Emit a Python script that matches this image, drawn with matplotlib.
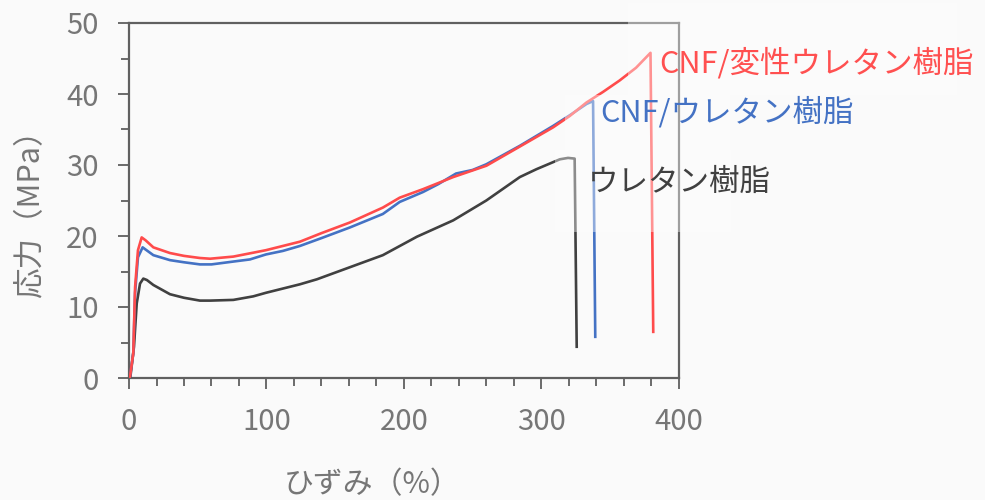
import matplotlib
matplotlib.use("Agg")
import matplotlib.pyplot as plt
from matplotlib.ticker import MultipleLocator
from matplotlib.patches import Rectangle

plt.rcParams['font.family'] = ['Noto Sans CJK JP', 'DejaVu Sans']

# Stress-strain curves (strain %, stress MPa)
mod_cnf_strain = [0, 0.7, 3.1, 4.4, 6.5, 9.2, 12, 17.7, 29.8, 40, 51.6, 59, 75.9, 90.4,
                  99.6, 112, 124.4, 140, 160.7, 184.7, 197, 214, 235.9, 260.1, 284.4,
                  308.6, 320.7, 332.9, 345, 357, 369, 379.5, 381.5]
mod_cnf_stress = [0, 0.2, 3.5, 12.8, 18, 19.8, 19.4, 18.4, 17.6, 17.2, 16.9, 16.8, 17.1, 17.65,
                  18.0, 18.6, 19.2, 20.4, 21.9, 24.0, 25.4, 26.6, 28.3, 29.9, 32.6,
                  35.3, 36.9, 38.8, 40.3, 41.9, 43.7, 45.8, 6.5]

cnf_strain = [0, 0.7, 3.1, 4.4, 6.5, 9.9, 12, 17.7, 29.8, 40, 51.6, 60, 75.9, 88, 99.6,
              112, 124.4, 140, 160.7, 184.7, 197, 214, 225, 238, 250, 260, 284.4, 308.6,
              320.7, 333, 337.7, 339.3]
cnf_stress = [0, 0.2, 3.5, 12, 17, 18.4, 18.1, 17.3, 16.6, 16.3, 16.0, 16.0, 16.4, 16.7, 17.4,
              17.9, 18.6, 19.7, 21.2, 23.1, 24.8, 26.2, 27.3, 28.8, 29.3, 30.1, 32.7, 35.5,
              37.0, 38.6, 39.0, 5.8]

pu_strain = [0, 1, 3.6, 5.6, 8, 10.4, 13, 17.7, 29.8, 40, 51.6, 59, 75.9, 90.4, 99.6, 112,
             124.4, 136.7, 160.7, 184.7, 209.5, 235.9, 260, 284.4, 296.4, 308.6, 313.5,
             319.5, 324.3, 325.8]
pu_stress = [0, 0.2, 4.4, 10.5, 13.3, 14.0, 13.8, 13.1, 11.8, 11.3, 10.9, 10.9, 11.0, 11.5,
             12.0, 12.6, 13.2, 13.9, 15.6, 17.3, 19.9, 22.2, 25.0, 28.3, 29.4, 30.4, 30.8,
             31.0, 30.9, 4.4]

labels = ["CNF/変性ウレタン樹脂", "CNF/ウレタン樹脂", "ウレタン樹脂"]
colors = ["#FF4B4B", "#4472C4", "#404040"]

bg = "#FAFAFA"
axis_col = "#606060"
text_col = "#767676"

fig = plt.figure(figsize=(9.85, 5.0), dpi=100, facecolor=bg)
ax = fig.add_axes([0.131, 0.244, 0.558, 0.710], facecolor=bg)

ax.plot(pu_strain, pu_stress, color=colors[2], lw=1.9, zorder=3)
ax.plot(cnf_strain, cnf_stress, color=colors[1], lw=1.9, zorder=3)
ax.plot(mod_cnf_strain, mod_cnf_stress, color=colors[0], lw=1.9, zorder=3)

ax.set_xlim(0, 400)
ax.set_ylim(0, 50)
ax.xaxis.set_major_locator(MultipleLocator(100))
ax.xaxis.set_minor_locator(MultipleLocator(20))
ax.yaxis.set_major_locator(MultipleLocator(10))
ax.yaxis.set_minor_locator(MultipleLocator(5))

for s in ax.spines.values():
    s.set_color(axis_col)
    s.set_linewidth(1.6)
ax.tick_params(which='major', direction='out', length=8, width=1.3, color=axis_col,
               labelsize=21, labelcolor=text_col)
ax.tick_params(which='minor', direction='out', length=5.5, width=1.3, color=axis_col)
ax.tick_params(axis='x', which='major', pad=13)
ax.tick_params(axis='y', which='major', pad=14)

fig.text(0.378, 0.03, "ひずみ（%）", fontsize=21.5, color=text_col, ha='center', va='center')
fig.text(0.031, 0.588, "応力（MPa）", fontsize=22, color=text_col, ha='center', va='center',
         rotation=90)

# translucent label panels
panels = [(0.907, 0.797, 0.60, 0.26), (0.793, 0.642, 0.30, 0.155),
          (0.775, 0.411, 0.32, 0.231)]
for (x0, y0, w, h) in panels:
    ax.add_patch(Rectangle((x0, y0), w, h, transform=ax.transAxes, facecolor="white",
                           edgecolor="none", alpha=0.4, clip_on=False, zorder=4))

ax.text(386, 44.2, labels[0], color="#FF5050", fontsize=22, va='center', ha='left',
        zorder=5, clip_on=False)
ax.text(343, 37.3, labels[1], color=colors[1], fontsize=22, va='center', ha='left',
        zorder=5, clip_on=False)
ax.text(334, 27.6, labels[2], color=colors[2], fontsize=22, va='center', ha='left',
        zorder=5, clip_on=False)

fig.savefig("out.png", dpi=100, facecolor=bg)
